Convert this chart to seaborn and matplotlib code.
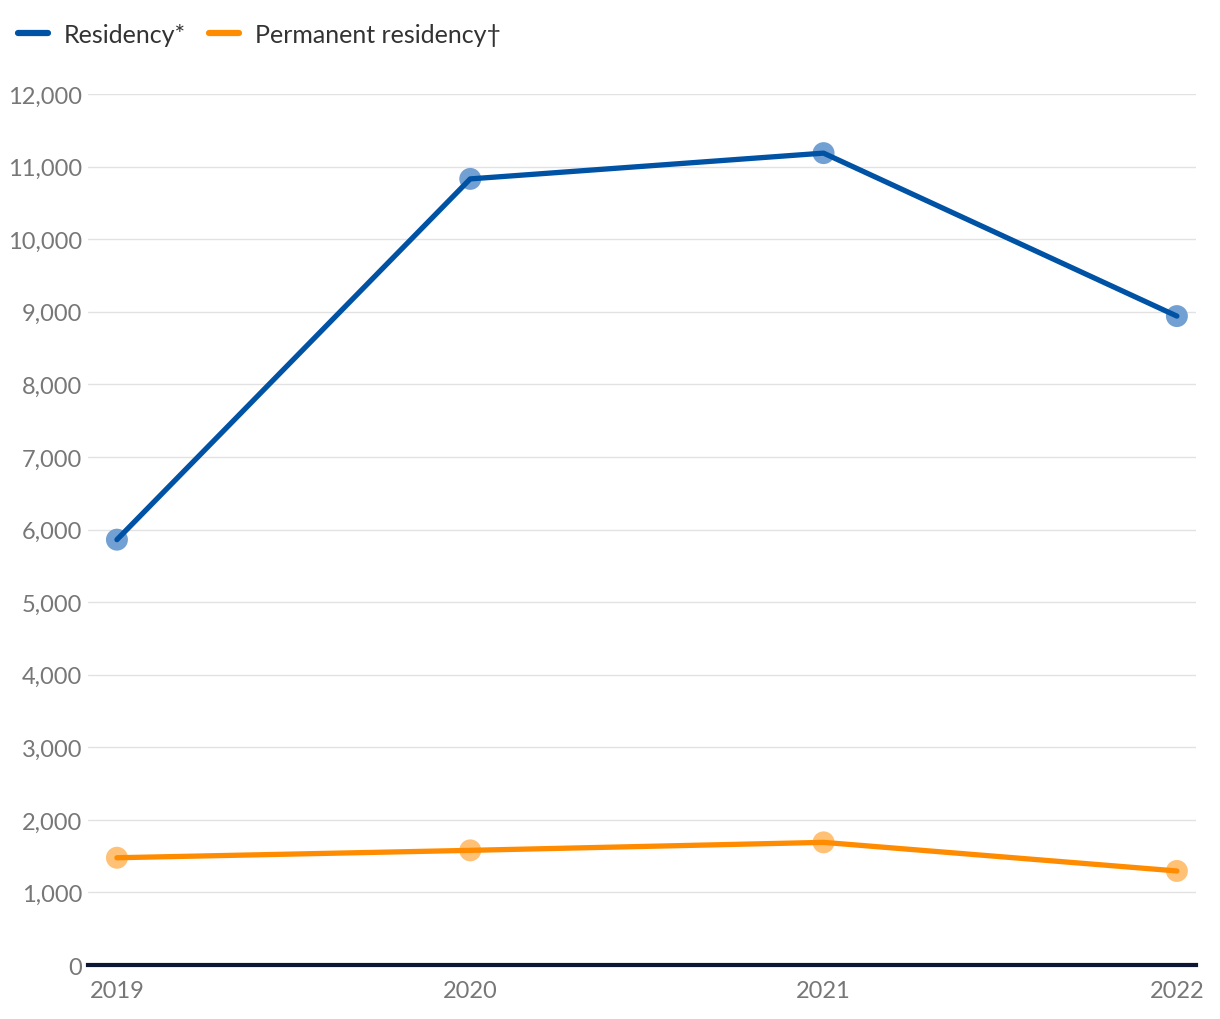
import matplotlib
matplotlib.use("Agg")
import matplotlib.pyplot as plt
import seaborn as sns
import pandas as pd
from matplotlib.lines import Line2D
from matplotlib.ticker import FuncFormatter, MultipleLocator

years = [2019, 2020, 2021, 2022]
residency = [5860, 10830, 11185, 8940]
permanent = [1478, 1580, 1690, 1296]
series_names = ["Residency*", "Permanent residency\u2020"]
line_colors = ["#0052a5", "#ff8c00"]
marker_colors = ["#73a0d2", "#ffc175"]

df = pd.DataFrame({
    "year": years * 2,
    "value": residency + permanent,
    "series": [series_names[0]] * 4 + [series_names[1]] * 4,
})

sns.set_theme(style="white")
plt.rcParams["font.family"] = ["Lato", "DejaVu Sans"]

fig = plt.figure(figsize=(12.2, 10.2), dpi=100)
ax = fig.add_axes([0.0721, 0.0529, 0.9082, 0.854])

sns.scatterplot(data=df, x="year", y="value", hue="series",
                palette=dict(zip(series_names, marker_colors)),
                s=250, edgecolor="none", legend=False, ax=ax, zorder=2, clip_on=False)
sns.lineplot(data=df, x="year", y="value", hue="series",
             palette=dict(zip(series_names, line_colors)),
             linewidth=3.8, legend=False, ax=ax, zorder=3)

ax.set_xlim(2019 - 0.082, 2022 + 0.054)
ax.set_ylim(0, 12000)
ax.yaxis.set_major_locator(MultipleLocator(1000))
ax.yaxis.set_major_formatter(FuncFormatter(lambda v, p: f"{int(v):,}"))
ax.set_xticks(years)
ax.set_xticklabels([str(y) for y in years])
ax.grid(axis="y", color="#e2e2e2", linewidth=1.0)
ax.set_axisbelow(True)
for s in ["top", "right", "left"]:
    ax.spines[s].set_visible(False)
ax.spines["bottom"].set_color("#0d1633")
ax.spines["bottom"].set_linewidth(3)
ax.spines["bottom"].set_zorder(4)
ax.tick_params(axis="both", length=0, labelsize=17, labelcolor="#777777")
ax.tick_params(axis="y", pad=4)
ax.tick_params(axis="x", pad=11)
ax.set_xlabel("")
ax.set_ylabel("")

handles = [Line2D([0], [0], color=c, linewidth=4.5, solid_capstyle="round") for c in line_colors]
fig.legend(handles, series_names, loc="upper left", bbox_to_anchor=(-0.004, 0.999),
           frameon=False, ncol=2, fontsize=18, handlelength=1.2, handletextpad=0.64,
           columnspacing=0.92, labelcolor="#333333")

fig.savefig("out.png", dpi=100)
